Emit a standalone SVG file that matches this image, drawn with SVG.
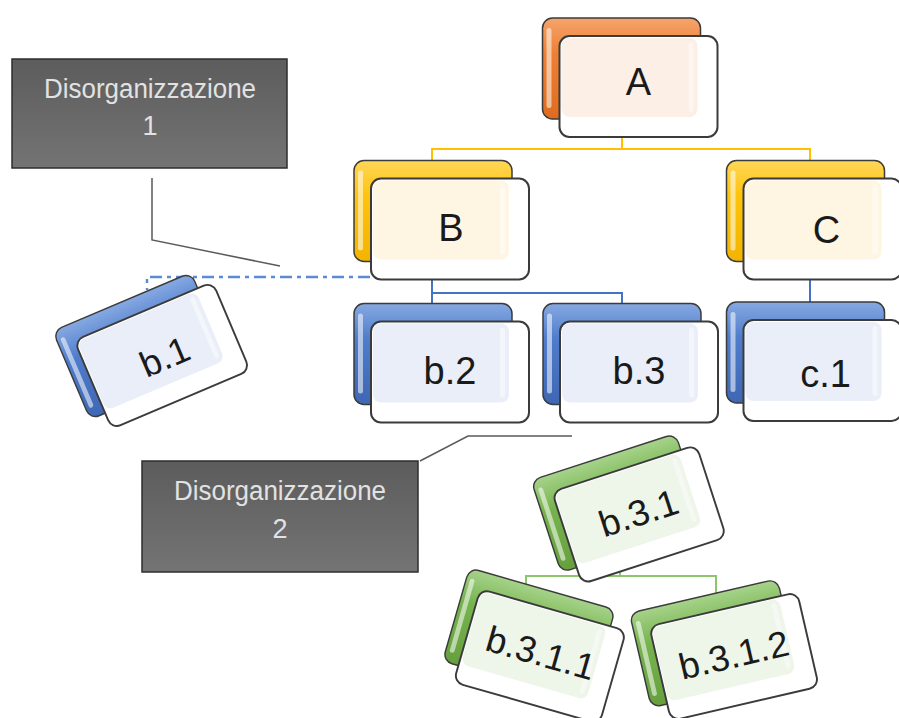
<svg xmlns="http://www.w3.org/2000/svg" width="899" height="718" viewBox="0 0 899 718">
<defs>
<linearGradient id="gO" x1="0" y1="0" x2="0" y2="1"><stop offset="0" stop-color="#f5a46b"/><stop offset="0.35" stop-color="#ee8035"/><stop offset="1" stop-color="#dd6c20"/></linearGradient>
<linearGradient id="gY" x1="0" y1="0" x2="0" y2="1"><stop offset="0" stop-color="#ffd75a"/><stop offset="0.35" stop-color="#ffc30a"/><stop offset="1" stop-color="#f2b400"/></linearGradient>
<linearGradient id="gB" x1="0" y1="0" x2="0" y2="1"><stop offset="0" stop-color="#86a9e2"/><stop offset="0.35" stop-color="#4f7ccb"/><stop offset="1" stop-color="#3e67b4"/></linearGradient>
<linearGradient id="gG" x1="0" y1="0" x2="0" y2="1"><stop offset="0" stop-color="#a6d38a"/><stop offset="0.35" stop-color="#76b34d"/><stop offset="1" stop-color="#66a03e"/></linearGradient>
<linearGradient id="gC" x1="0" y1="0" x2="0" y2="1"><stop offset="0" stop-color="#5c5c5c"/><stop offset="1" stop-color="#747474"/></linearGradient>
<style>
.bk{stroke:#3b3b3b;stroke-width:1.5}
.hl{fill:#ffffff;opacity:.55}
.fr{fill:#ffffff;stroke:#3b3b3b;stroke-width:2}
.st{fill:#ffffff;opacity:.45}
.lbl{font-family:"Liberation Sans",Arial,sans-serif;font-size:38px;fill:#1a1a1a;text-anchor:middle}
.o .bk{fill:url(#gO)} .o .tn{fill:#fcefe6}
.y .bk{fill:url(#gY)} .y .tn{fill:#fef6e3}
.b .bk{fill:url(#gB)} .b .tn{fill:#e9eef8}
.g .bk{fill:url(#gG)} .g .tn{fill:#eef5e9}
.cb{fill:url(#gC);stroke:#2e2e2e;stroke-width:1.5}
.ct{font-family:"Liberation Sans",Arial,sans-serif;font-size:27px;fill:#e2e2e2;text-anchor:middle}
.cl{fill:none;stroke:#5a5a5a;stroke-width:1.5}
.ly{fill:none;stroke:#ffc000;stroke-width:2}
.lb{fill:none;stroke:#4472c4;stroke-width:2}
.lg{fill:none;stroke:#8cc56c;stroke-width:2}
.ld{fill:none;stroke:#5b8bd6;stroke-width:2.5;stroke-dasharray:12 5 4 5}
</style>
</defs>
<rect width="899" height="718" fill="#ffffff"/>

<g id="connectors">
<polyline class="ly" points="622,130 622,149"/>
<polyline class="ly" points="432,165 432,149 810,149 810,165"/>
<polyline class="lb" points="432,272 432,293"/>
<polyline class="lb" points="432,306 432,293 622,293 622,306"/>
<polyline class="lb" points="810,272 810,306"/>
<polyline class="ld" points="370,277 147,277 147,290"/>
<polyline class="lg" points="620,540 620,576"/>
<polyline class="lg" points="526,596 526,576 716,576 716,596"/>
<polyline class="cl" points="152,178 152,240 280,266"/>
<polyline class="cl" points="420,461 468,436 572,436"/>
</g>

<g id="callout-1">
<rect class="cb" x="12" y="59" width="275" height="109"/>
<text class="ct" x="150" y="98" textLength="212" lengthAdjust="spacingAndGlyphs">Disorganizzazione</text>
<text class="ct" x="150" y="135">1</text>
</g>
<g id="callout-2">
<rect class="cb" x="142" y="461" width="276" height="111"/>
<text class="ct" x="280" y="500" textLength="212" lengthAdjust="spacingAndGlyphs">Disorganizzazione</text>
<text class="ct" x="280" y="538">2</text>
</g>

<g id="node-A" class="o" transform="translate(638.5,86)">
<rect class="bk" x="-96" y="-68" width="158" height="101" rx="10"/>
<rect class="hl" x="-92" y="-58" width="5" height="80" rx="2.5"/>
<rect class="fr" x="-79" y="-50" width="158" height="101" rx="10"/>
<rect class="tn" x="-77" y="-48" width="136" height="79" rx="8"/>
<rect class="st" x="50" y="-44" width="5" height="70" rx="2.5"/>
<text class="lbl" x="0" y="9">A</text>
</g>

<g id="node-B" class="y" transform="translate(450,228.5)">
<rect class="bk" x="-96" y="-68" width="158" height="101" rx="10"/>
<rect class="hl" x="-92" y="-58" width="5" height="80" rx="2.5"/>
<rect class="fr" x="-79" y="-50" width="158" height="101" rx="10"/>
<rect class="tn" x="-77" y="-48" width="136" height="79" rx="8"/>
<rect class="st" x="50" y="-44" width="5" height="70" rx="2.5"/>
<text class="lbl" x="1" y="12">B</text>
</g>

<g id="node-C" class="y" transform="translate(822.5,228.5)">
<rect class="bk" x="-96" y="-68" width="158" height="101" rx="10"/>
<rect class="hl" x="-92" y="-58" width="5" height="80" rx="2.5"/>
<rect class="fr" x="-79" y="-50" width="158" height="101" rx="10"/>
<rect class="tn" x="-77" y="-48" width="136" height="79" rx="8"/>
<rect class="st" x="50" y="-44" width="5" height="70" rx="2.5"/>
<text class="lbl" x="4" y="14">C</text>
</g>

<g id="node-b2" class="b" transform="translate(450,371.5)">
<rect class="bk" x="-96" y="-68" width="158" height="101" rx="10"/>
<rect class="hl" x="-92" y="-58" width="5" height="80" rx="2.5"/>
<rect class="fr" x="-79" y="-50" width="158" height="101" rx="10"/>
<rect class="tn" x="-77" y="-48" width="136" height="79" rx="8"/>
<rect class="st" x="50" y="-44" width="5" height="70" rx="2.5"/>
<text class="lbl" x="0" y="12">b.2</text>
</g>

<g id="node-b3" class="b" transform="translate(639,371.5)">
<rect class="bk" x="-96" y="-68" width="158" height="101" rx="10"/>
<rect class="hl" x="-92" y="-58" width="5" height="80" rx="2.5"/>
<rect class="fr" x="-79" y="-50" width="158" height="101" rx="10"/>
<rect class="tn" x="-77" y="-48" width="136" height="79" rx="8"/>
<rect class="st" x="50" y="-44" width="5" height="70" rx="2.5"/>
<text class="lbl" x="0" y="12">b.3</text>
</g>

<g id="node-c1" class="b" transform="translate(822.5,370)">
<rect class="bk" x="-96" y="-68" width="158" height="101" rx="10"/>
<rect class="hl" x="-92" y="-58" width="5" height="80" rx="2.5"/>
<rect class="fr" x="-79" y="-50" width="158" height="101" rx="10"/>
<rect class="tn" x="-77" y="-48" width="136" height="79" rx="8"/>
<rect class="st" x="50" y="-44" width="5" height="70" rx="2.5"/>
<text class="lbl" x="3" y="17">c.1</text>
</g>

<g id="node-b1" class="b" transform="translate(162,355) rotate(-23) scale(0.95)">
<rect class="bk" x="-96" y="-68" width="158" height="101" rx="10"/>
<rect class="hl" x="-92" y="-58" width="5" height="80" rx="2.5"/>
<rect class="fr" x="-79" y="-50" width="158" height="101" rx="10"/>
<rect class="tn" x="-77" y="-48" width="136" height="79" rx="8"/>
<rect class="st" x="50" y="-44" width="5" height="70" rx="2.5"/>
<text class="lbl" x="2" y="16">b.1</text>
</g>

<g id="node-b31" class="g" transform="translate(639,514) rotate(-18) scale(0.96)">
<rect class="bk" x="-96" y="-68" width="158" height="101" rx="10"/>
<rect class="hl" x="-92" y="-58" width="5" height="80" rx="2.5"/>
<rect class="fr" x="-79" y="-50" width="158" height="101" rx="10"/>
<rect class="tn" x="-77" y="-48" width="136" height="79" rx="8"/>
<rect class="st" x="50" y="-44" width="5" height="70" rx="2.5"/>
<text class="lbl" x="0" y="12">b.3.1</text>
</g>

<g id="node-b312" class="g" transform="translate(734,656) rotate(-13) scale(0.96)">
<rect class="bk" x="-96" y="-68" width="158" height="101" rx="10"/>
<rect class="hl" x="-92" y="-58" width="5" height="80" rx="2.5"/>
<rect class="fr" x="-79" y="-50" width="158" height="101" rx="10"/>
<rect class="tn" x="-77" y="-48" width="136" height="79" rx="8"/>
<rect class="st" x="50" y="-44" width="5" height="70" rx="2.5"/>
<text class="lbl" x="0" y="12">b.3.1.2</text>
</g>

<g id="node-b311" class="g" transform="translate(540,656) rotate(16) scale(0.96)">
<rect class="bk" x="-96" y="-68" width="158" height="101" rx="10"/>
<rect class="hl" x="-92" y="-58" width="5" height="80" rx="2.5"/>
<rect class="fr" x="-79" y="-50" width="158" height="101" rx="10"/>
<rect class="tn" x="-77" y="-48" width="136" height="79" rx="8"/>
<rect class="st" x="50" y="-44" width="5" height="70" rx="2.5"/>
<text class="lbl" x="0" y="10">b.3.1.1</text>
</g>
</svg>
